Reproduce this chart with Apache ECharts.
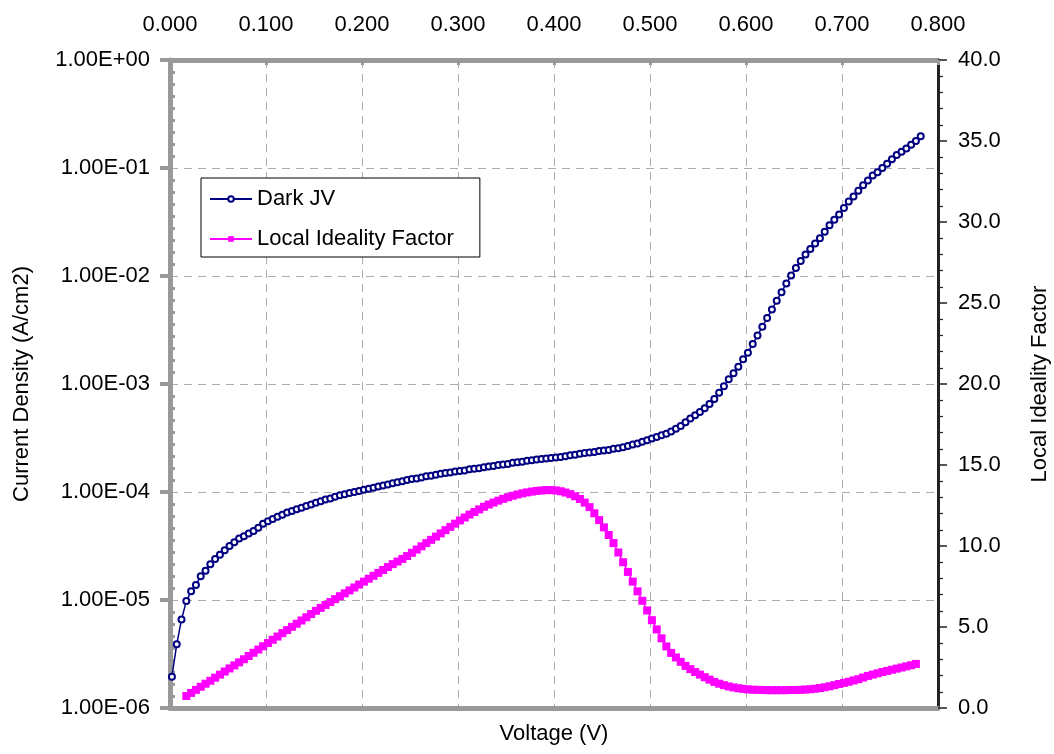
<!DOCTYPE html>
<html>
<head>
<meta charset="utf-8">
<title>Dark JV</title>
<script src="https://cdn.jsdelivr.net/npm/echarts@6.0.0/dist/echarts.min.js"></script>
<style>
  html, body { margin: 0; padding: 0; background: #fff; }
  #chart { width: 1054px; height: 754px; }
</style>
</head>
<body>
<div id="chart"></div>
<script>
// voltage sweep (V)
var voltage = [
  0.002, 0.007, 0.012, 0.017, 0.022, 0.027, 0.032, 0.037, 0.042, 0.047,
  0.052, 0.057, 0.062, 0.067, 0.072, 0.077, 0.082, 0.087, 0.092, 0.097,
  0.102, 0.107, 0.112, 0.117, 0.122, 0.127, 0.132, 0.137, 0.142, 0.147,
  0.152, 0.157, 0.162, 0.167, 0.172, 0.177, 0.182, 0.187, 0.192, 0.197,
  0.202, 0.207, 0.212, 0.217, 0.222, 0.227, 0.232, 0.237, 0.242, 0.247,
  0.252, 0.257, 0.262, 0.267, 0.272, 0.277, 0.282, 0.287, 0.292, 0.297,
  0.302, 0.307, 0.312, 0.317, 0.322, 0.327, 0.332, 0.337, 0.342, 0.347,
  0.352, 0.357, 0.362, 0.367, 0.372, 0.377, 0.382, 0.387, 0.392, 0.397,
  0.402, 0.407, 0.412, 0.417, 0.422, 0.427, 0.432, 0.437, 0.442, 0.447,
  0.452, 0.457, 0.462, 0.467, 0.472, 0.477, 0.482, 0.487, 0.492, 0.497,
  0.502, 0.507, 0.512, 0.517, 0.522, 0.527, 0.532, 0.537, 0.542, 0.547,
  0.552, 0.557, 0.562, 0.567, 0.572, 0.577, 0.582, 0.587, 0.592, 0.597,
  0.602, 0.607, 0.612, 0.617, 0.622, 0.627, 0.632, 0.637, 0.642, 0.647,
  0.652, 0.657, 0.662, 0.667, 0.672, 0.677, 0.682, 0.687, 0.692, 0.697,
  0.702, 0.707, 0.712, 0.717, 0.722, 0.727, 0.732, 0.737, 0.742, 0.747,
  0.752, 0.757, 0.762, 0.767, 0.772, 0.777, 0.782
];

// dark current density, stored as log10(J / A cm-2)
var darkJvLog10 = [
  -5.71, -5.41, -5.18, -5.01, -4.92, -4.86, -4.78, -4.73, -4.67, -4.62,
  -4.58, -4.54, -4.50, -4.465, -4.43, -4.41, -4.385, -4.36, -4.33, -4.295,
  -4.27, -4.25, -4.23, -4.21, -4.19, -4.175, -4.16, -4.145, -4.13, -4.115,
  -4.10, -4.085, -4.07, -4.06, -4.045, -4.03, -4.02, -4.01, -4.00, -3.99,
  -3.98, -3.97, -3.96, -3.95, -3.94, -3.93, -3.92, -3.91, -3.90, -3.89,
  -3.88, -3.875, -3.865, -3.855, -3.85, -3.84, -3.83, -3.825, -3.82, -3.81,
  -3.805, -3.80, -3.79, -3.785, -3.78, -3.77, -3.765, -3.76, -3.75, -3.745,
  -3.74, -3.73, -3.725, -3.72, -3.71, -3.705, -3.70, -3.695, -3.69, -3.685,
  -3.68, -3.675, -3.67, -3.66, -3.655, -3.645, -3.64, -3.635, -3.63, -3.62,
  -3.615, -3.61, -3.60, -3.595, -3.585, -3.575, -3.56, -3.55, -3.535, -3.52,
  -3.505, -3.49, -3.475, -3.46, -3.44, -3.415, -3.39, -3.355, -3.32, -3.29,
  -3.26, -3.225, -3.185, -3.14, -3.08, -3.02, -2.955, -2.90, -2.84, -2.77,
  -2.71, -2.63, -2.55, -2.47, -2.39, -2.31, -2.23, -2.15, -2.07, -1.995,
  -1.925, -1.86, -1.80, -1.75, -1.70, -1.65, -1.59, -1.53, -1.48, -1.43,
  -1.37, -1.31, -1.265, -1.21, -1.16, -1.115, -1.07, -1.04, -1.00, -0.96,
  -0.92, -0.88, -0.85, -0.82, -0.785, -0.75, -0.705
];

// local ideality factor (null where not computed)
var idealityFactor = [
  null, null, null, 0.74, 0.93, 1.12, 1.31, 1.50, 1.68, 1.87,
  2.06, 2.25, 2.44, 2.63, 2.82, 3.01, 3.21, 3.41, 3.61, 3.81,
  4.01, 4.21, 4.41, 4.62, 4.81, 5.01, 5.20, 5.40, 5.60, 5.80,
  6.00, 6.18, 6.36, 6.54, 6.72, 6.90, 7.08, 7.26, 7.44, 7.62,
  7.80, 7.98, 8.16, 8.34, 8.52, 8.70, 8.88, 9.04, 9.20, 9.38,
  9.58, 9.78, 9.98, 10.18, 10.38, 10.58, 10.78, 10.98, 11.18, 11.38,
  11.58, 11.76, 11.94, 12.10, 12.26, 12.42, 12.56, 12.68, 12.80, 12.91,
  13.01, 13.10, 13.18, 13.25, 13.31, 13.36, 13.40, 13.43, 13.45, 13.45,
  13.43, 13.38, 13.30, 13.20, 13.07, 12.90, 12.68, 12.40, 12.02, 11.60,
  11.15, 10.68, 10.18, 9.60, 9.00, 8.40, 7.80, 7.20, 6.62, 6.02,
  5.42, 4.85, 4.30, 3.80, 3.40, 3.12, 2.85, 2.60, 2.40, 2.22,
  2.06, 1.90, 1.75, 1.61, 1.50, 1.41, 1.33, 1.27, 1.22, 1.18,
  1.15, 1.13, 1.12, 1.11, 1.10, 1.10, 1.10, 1.10, 1.10, 1.11,
  1.11, 1.12, 1.14, 1.16, 1.19, 1.23, 1.28, 1.34, 1.41, 1.48,
  1.55, 1.62, 1.70, 1.78, 1.88, 1.98, 2.06, 2.14, 2.22, 2.29,
  2.36, 2.43, 2.50, 2.57, 2.64, 2.72, null
];

var voltageTicks = ['0.000', '0.100', '0.200', '0.300', '0.400', '0.500', '0.600', '0.700', '0.800'];
var currentTicks = ['1.00E-06', '1.00E-05', '1.00E-04', '1.00E-03', '1.00E-02', '1.00E-01', '1.00E+00'];
var idealityTicks = ['0.0', '5.0', '10.0', '15.0', '20.0', '25.0', '30.0', '35.0', '40.0'];

var FONT = '"Liberation Sans", Arial, sans-serif';
var GRAY = '#999999';
var DASH = '#acacac';

var darkData = voltage.map(function (v, i) {
  return [v, Math.pow(10, darkJvLog10[i])];
});
var idealityData = [];
voltage.forEach(function (v, i) {
  if (idealityFactor[i] != null) idealityData.push([v, idealityFactor[i]]);
});

var myChart = echarts.init(document.getElementById('chart'), null, { renderer: 'canvas' });

var option = {
  animation: false,
  backgroundColor: '#fff',
  textStyle: { fontFamily: FONT, color: '#000' },
  grid: {
    left: 170, right: 116, top: 60, bottom: 46,
    containLabel: false,
    outerBoundsMode: 'none'
  },
  legend: {
    orient: 'vertical',
    left: 201,
    top: 178,
    padding: [10, 26, 7, 8],
    itemWidth: 42,
    itemHeight: 7,
    itemGap: 18,
    backgroundColor: '#fff',
    borderColor: '#000',
    borderWidth: 1,
    borderRadius: 0,
    textStyle: { fontSize: 22, color: '#000', fontFamily: FONT },
    data: ['Dark JV', 'Local Ideality Factor']
  },
  xAxis: [
    {
      type: 'value',
      position: 'top',
      min: 0,
      max: 0.8,
      interval: 0.1,
      axisLine: { show: true, onZero: false, lineStyle: { color: GRAY, width: 5 } },
      axisTick: { show: true, inside: true, length: 5, lineStyle: { color: GRAY, width: 3 } },
      axisLabel: {
        fontSize: 22,
        color: '#000',
        fontFamily: FONT,
        margin: 24,
        showMinLabel: true,
        showMaxLabel: true,
        formatter: function (v) {
          return voltageTicks[Math.round(v / 0.1)];
        }
      },
      splitLine: { show: true, lineStyle: { color: DASH, type: [8, 6], width: 1 } }
    },
    {
      type: 'value',
      position: 'bottom',
      min: 0,
      max: 0.8,
      interval: 0.1,
      name: 'Voltage (V)',
      nameLocation: 'middle',
      nameGap: 15,
      nameTextStyle: { fontSize: 22, color: '#000', fontFamily: FONT },
      axisLine: { show: true, onZero: false, lineStyle: { color: GRAY, width: 5 } },
      axisTick: { show: false },
      axisLabel: { show: false },
      splitLine: { show: false }
    }
  ],
  yAxis: [
    {
      type: 'log',
      position: 'left',
      min: 1e-6,
      max: 1,
      logBase: 10,
      name: 'Current Density (A/cm2)',
      nameLocation: 'middle',
      nameGap: 137,
      nameTextStyle: { fontSize: 22, color: '#000', fontFamily: FONT },
      axisLine: { show: true, onZero: false, lineStyle: { color: GRAY, width: 5 } },
      axisTick: { show: true, length: 10, lineStyle: { color: GRAY, width: 4 } },
      axisLabel: {
        fontSize: 22,
        color: '#000',
        fontFamily: FONT,
        margin: 20,
        showMinLabel: true,
        showMaxLabel: true,
        formatter: function (v) {
          return currentTicks[Math.round(Math.log10(v)) + 6];
        }
      },
      splitLine: { show: true, lineStyle: { color: DASH, type: [8, 6], width: 1 } }
    },
    {
      type: 'value',
      position: 'right',
      min: 0,
      max: 40,
      interval: 5,
      name: 'Local Ideality Factor',
      nameLocation: 'middle',
      nameGap: 91,
      nameTextStyle: { fontSize: 22, color: '#000', fontFamily: FONT },
      axisLine: { show: true, onZero: false, lineStyle: { color: '#222', width: 3 } },
      axisTick: { show: true, length: 9, lineStyle: { color: '#222', width: 1.5 } },
      minorTick: { show: true, splitNumber: 5, length: 5, lineStyle: { color: '#222', width: 1.2 } },
      axisLabel: {
        fontSize: 22,
        color: '#000',
        fontFamily: FONT,
        margin: 20,
        showMinLabel: true,
        showMaxLabel: true,
        formatter: function (v) {
          return idealityTicks[Math.round(v / 5)];
        }
      },
      splitLine: { show: false }
    },
    {
      // overlay only for the small inner ticks of the log axis
      type: 'value',
      position: 'left',
      offset: 0,
      min: -6,
      max: 0,
      interval: 1,
      axisLine: { show: false, onZero: false },
      axisTick: { show: false, inside: true },
      minorTick: { show: true, splitNumber: 9, length: 5, lineStyle: { color: GRAY, width: 3 } },
      axisLabel: { show: false },
      splitLine: { show: false },
      minorSplitLine: { show: false }
    }
  ],
  series: [
    {
      name: 'Dark JV',
      type: 'line',
      xAxisIndex: 0,
      yAxisIndex: 0,
      data: darkData,
      symbol: 'emptyCircle',
      symbolSize: 6,
      showSymbol: true,
      showAllSymbol: true,
      lineStyle: { color: '#000080', width: 1.5 },
      itemStyle: { color: '#000080', borderColor: '#000080', borderWidth: 1.5 },
      z: 3
    },
    {
      name: 'Local Ideality Factor',
      type: 'line',
      xAxisIndex: 0,
      yAxisIndex: 1,
      data: idealityData,
      symbol: 'rect',
      symbolSize: 8,
      showSymbol: true,
      showAllSymbol: true,
      lineStyle: { color: '#ff00ff', width: 1.5 },
      itemStyle: { color: '#ff00ff' },
      z: 2
    }
  ]
};

myChart.setOption(option);
window.addEventListener('resize', function () {
  myChart.resize();
});
</script>
</body>
</html>
